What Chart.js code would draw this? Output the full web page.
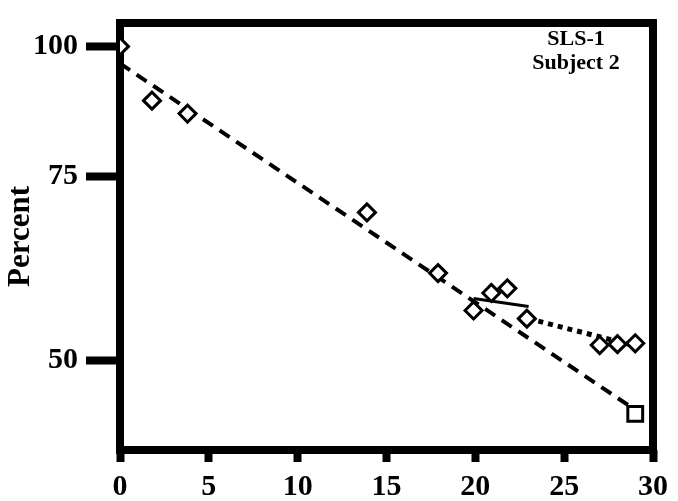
<!DOCTYPE html>
<html>
<head>
<meta charset="utf-8">
<script src="https://cdn.jsdelivr.net/npm/chart.js@4/dist/chart.umd.min.js"></script>
<style>
    html, body { margin: 0; padding: 0; background: #fff; }
    #wrap { width: 678px; height: 501px; position: relative; }
</style>
</head>
<body>
<div id="wrap"><canvas id="slsChart"></canvas></div>
<script>
// measured points (day, percent)
const days = [0, 1.8, 3.8, 13.9, 17.9, 19.9, 20.9, 21.8, 22.9, 27.0, 28.0, 29.0];
const percent = [100, 88.7, 86.2, 69.3, 60.6, 55.8, 58.0, 58.6, 54.8, 51.7, 51.8, 51.9];

// projected end point (square)
const projDay = [29];
const projPercent = [44.4];

// fitted lines
const dashedDays = [0, 29];
const dashedPercent = [96.3, 44.8];
const solidDays = [19.9, 23.0];
const solidPercent = [57.3, 56.3];
const dottedDays = [23, 29];
const dottedPercent = [54.8, 51.6];

const yTicks = [50, 75, 100];
const xTicks = [0, 5, 10, 15, 20, 25, 30];
const noteLines = ['SLS-1', 'Subject 2'];

function toPoints(xs, ys) {
    return xs.map((x, i) => ({ x: x, y: ys[i] }));
}

const serif = "'Liberation Serif', 'DejaVu Serif', serif";

// thick frame round the plot plus the corner note
const framePlugin = {
    id: 'frame',
    beforeDatasetsDraw(chart) {
        const a = chart.chartArea;
        const ctx = chart.ctx;
        ctx.save();
        ctx.strokeStyle = '#000';
        ctx.lineWidth = 8;
        ctx.strokeRect(a.left, a.top, a.right - a.left, a.bottom - a.top);
        ctx.restore();
    },
    afterDraw(chart) {
        const ctx = chart.ctx;
        ctx.save();
        ctx.fillStyle = '#000';
        ctx.font = "bold 22px " + serif;
        ctx.textAlign = 'center';
        ctx.textBaseline = 'middle';
        ctx.fillText(noteLines[0], 576, 39);
        ctx.fillText(noteLines[1], 576, 63);
        ctx.restore();
    }
};

const ctx = document.getElementById('slsChart');
new Chart(ctx.getContext('2d'), {
    type: 'scatter',
    data: {
        datasets: [{
            label: 'Measured',
            data: toPoints(days, percent),
            pointStyle: 'rectRot',
            pointRadius: 8.5,
            pointBorderWidth: 3,
            pointBackgroundColor: '#fff',
            pointBorderColor: '#000',
            showLine: false,
            order: 0
        }, {
            label: 'Projected',
            data: toPoints(projDay, projPercent),
            pointStyle: 'rect',
            pointRadius: 10.5,
            pointBorderWidth: 3,
            pointBackgroundColor: '#fff',
            pointBorderColor: '#000',
            showLine: false,
            order: 1
        }, {
            label: 'Dashed fit',
            data: toPoints(dashedDays, dashedPercent),
            showLine: true,
            borderColor: '#000',
            borderWidth: 4,
            borderDash: [12, 8],
            pointRadius: 0,
            order: 2
        }, {
            label: 'Solid fit',
            data: toPoints(solidDays, solidPercent),
            showLine: true,
            borderColor: '#000',
            borderWidth: 3,
            pointRadius: 0,
            order: 3
        }, {
            label: 'Dotted fit',
            data: toPoints(dottedDays, dottedPercent),
            showLine: true,
            borderColor: '#000',
            borderWidth: 5,
            borderDash: [5, 5],
            pointRadius: 0,
            order: 4
        }]
    },
    options: {
        responsive: true,
        maintainAspectRatio: false,
        animation: false,
        layout: {
            padding: { top: 16, right: 22, bottom: 0, left: 0 }
        },
        plugins: {
            legend: { display: false },
            tooltip: { enabled: false }
        },
        scales: {
            x: {
                type: 'linear',
                min: 0,
                max: 30,
                afterBuildTicks: function(scale) {
                    scale.ticks = xTicks.map(v => ({ value: v }));
                },
                afterFit: function(scale) {
                    scale.height = 51;
                },
                border: { display: false },
                grid: {
                    drawOnChartArea: false,
                    drawTicks: true,
                    tickLength: 12,
                    tickWidth: 8,
                    tickColor: '#000'
                },
                ticks: {
                    color: '#000',
                    padding: 10,
                    maxRotation: 0,
                    font: { family: serif, size: 30, weight: 'bold', lineHeight: 1 }
                }
            },
            y: {
                type: 'logarithmic',
                min: 41.0,
                max: 105.3,
                afterBuildTicks: function(scale) {
                    scale.ticks = yTicks.map(v => ({ value: v }));
                },
                afterFit: function(scale) {
                    scale.width = 120;
                },
                border: { display: false },
                grid: {
                    drawOnChartArea: false,
                    drawTicks: true,
                    tickLength: 34,
                    tickWidth: 8,
                    tickColor: '#000'
                },
                ticks: {
                    color: '#000',
                    padding: 8,
                    callback: function(value) { return String(value); },
                    font: { family: serif, size: 30, weight: 'bold', lineHeight: 1 }
                },
                title: {
                    display: true,
                    text: 'Percent',
                    color: '#000',
                    padding: { top: 5, bottom: 0 },
                    font: { family: serif, size: 31, weight: 'bold', lineHeight: 1 }
                }
            }
        }
    },
    plugins: [framePlugin]
});
</script>
</body>
</html>
